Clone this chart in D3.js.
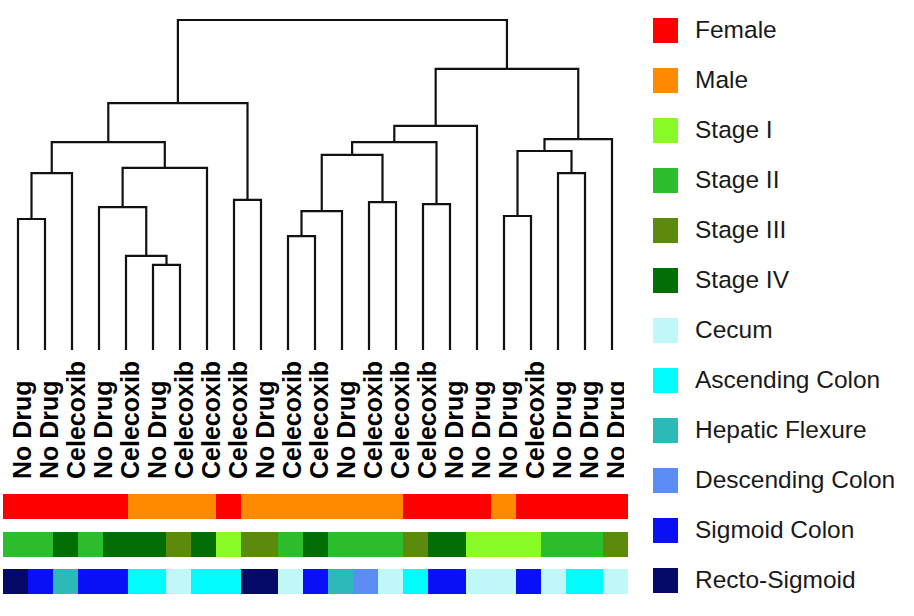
<!DOCTYPE html>
<html>
<head>
<meta charset="utf-8">
<script src="https://cdn.jsdelivr.net/npm/d3@7/dist/d3.min.js"></script>
<style>
  html, body { margin: 0; padding: 0; background: #fff; }
  svg { display: block; }
</style>
</head>
<body>
<svg id="chart" width="914" height="616"></svg>
<script>
// ---------------- DATA ----------------
const leafLabels = ["No Drug","No Drug","Celecoxib","No Drug","Celecoxib","No Drug","Celecoxib","Celecoxib","Celecoxib","No Drug","Celecoxib","Celecoxib","No Drug","Celecoxib","Celecoxib","Celecoxib","No Drug","No Drug","No Drug","Celecoxib","No Drug","No Drug","No Drug"];

// hclust-style merge list: negative = leaf (1-based), positive = earlier merge (1-based); third = height
const merges = [
  [-6, -7, 0.258],
  [-5, 1, 0.285],
  [-4, 2, 0.433],
  [3, -8, 0.552],
  [-1, -2, 0.397],
  [5, -3, 0.536],
  [6, 4, 0.630],
  [-9, -10, 0.455],
  [7, 8, 0.748],
  [-11, -12, 0.345],
  [10, -13, 0.421],
  [-14, -15, 0.448],
  [11, 12, 0.591],
  [-16, -17, 0.442],
  [13, 14, 0.630],
  [15, -18, 0.679],
  [-19, -20, 0.406],
  [-21, -22, 0.536],
  [17, 18, 0.603],
  [19, -23, 0.639],
  [16, 20, 0.852],
  [9, 21, 1.000]
];

// annotation bars: [start, end, category] in cell units (25 cells)
const sexSegments = [[0,5,"Female"],[5,8.5,"Male"],[8.5,9.5,"Female"],[9.5,16,"Male"],[16,19.5,"Female"],[19.5,20.5,"Male"],[20.5,25,"Female"]];
const stageSegments = [[0,2,"Stage II"],[2,3,"Stage IV"],[3,4,"Stage II"],[4,6.5,"Stage IV"],[6.5,7.5,"Stage III"],[7.5,8.5,"Stage IV"],[8.5,9.5,"Stage I"],[9.5,11,"Stage III"],[11,12,"Stage II"],[12,13,"Stage IV"],[13,16,"Stage II"],[16,17,"Stage III"],[17,18.5,"Stage IV"],[18.5,21.5,"Stage I"],[21.5,24,"Stage II"],[24,25,"Stage III"]];
const locationSegments = [[0,1,"Recto-Sigmoid"],[1,2,"Sigmoid Colon"],[2,3,"Hepatic Flexure"],[3,5,"Sigmoid Colon"],[5,6.5,"Ascending Colon"],[6.5,7.5,"Cecum"],[7.5,9.5,"Ascending Colon"],[9.5,11,"Recto-Sigmoid"],[11,12,"Cecum"],[12,13,"Sigmoid Colon"],[13,14,"Hepatic Flexure"],[14,15,"Descending Colon"],[15,16,"Cecum"],[16,17,"Ascending Colon"],[17,18.5,"Sigmoid Colon"],[18.5,20.5,"Cecum"],[20.5,21.5,"Sigmoid Colon"],[21.5,22.5,"Cecum"],[22.5,24,"Ascending Colon"],[24,25,"Cecum"]];

const legendCategories = ["Female","Male","Stage I","Stage II","Stage III","Stage IV","Cecum","Ascending Colon","Hepatic Flexure","Descending Colon","Sigmoid Colon","Recto-Sigmoid"];
const legendColors = ["#fe0000","#ff8a00","#88fa26","#2cbd2c","#5c8a0c","#036e03","#c0f8f8","#02fbfb","#2eb9b9","#5b8df5","#0a10f5","#050a68"];

// ---------------- CHART ----------------
const svg = d3.select("#chart");
const color = d3.scaleOrdinal().domain(legendCategories).range(legendColors);

function buildNode(ref) {
  if (ref < 0) return { leaf: -ref - 1, height: 0 };
  const m = merges[ref - 1];
  return { height: m[2], children: [buildNode(m[0]), buildNode(m[1])] };
}
const root = d3.hierarchy(buildNode(merges.length));

const xLeaf = d3.scalePoint().domain(d3.range(leafLabels.length)).range([18, 612]);
const yH = d3.scaleLinear().domain([0, 1]).range([350, 20]);

root.eachAfter(n => {
  if (!n.children) n.px = xLeaf(n.data.leaf);
  else n.px = d3.mean(n.children, c => c.px);
  n.py = yH(n.data.height);
});

svg.append("g").selectAll("path")
  .data(root.descendants().filter(n => n.children))
  .join("path")
  .attr("fill", "none")
  .attr("stroke", "#111")
  .attr("stroke-width", 2.2)
  .attr("d", n => {
    const [a, b] = n.children;
    return `M${a.px},${a.py}V${n.py}H${b.px}V${b.py}`;
  });

// leaf labels (read bottom-to-top, starting at the bottom line)
svg.append("g").attr("class", "labels")
  .selectAll("text")
  .data(leafLabels)
  .join("text")
  .attr("transform", (d, i) => `translate(${xLeaf(i) + 13},479) rotate(-90)`)
  .attr("text-anchor", "start")
  .style("font-family", "'Liberation Sans', Arial, sans-serif")
  .style("font-weight", "bold")
  .style("font-size", "25px")
  .attr("fill", "#000")
  .text(d => d);

// mask the clipped right edge of the last label, as in the reference
svg.append("rect").attr("x", 624).attr("y", 340).attr("width", 20).attr("height", 150).attr("fill", "#fff");

// annotation bars
const xCell = d3.scaleLinear().domain([0, 25]).range([3, 628]);
const bars = [
  { segs: sexSegments, y: 494 },
  { segs: stageSegments, y: 532 },
  { segs: locationSegments, y: 569 }
];
bars.forEach(b => {
  svg.append("g").selectAll("rect")
    .data(b.segs)
    .join("rect")
    .attr("x", d => xCell(d[0]))
    .attr("width", d => xCell(d[1]) - xCell(d[0]))
    .attr("y", b.y)
    .attr("height", 25)
    .attr("fill", d => color(d[2]))
    .attr("shape-rendering", "crispEdges");
});

// legend
const legend = svg.append("g").selectAll("g")
  .data(legendCategories)
  .join("g")
  .attr("transform", (d, i) => `translate(653,${18 + i * 50})`);
legend.append("rect")
  .attr("width", 25).attr("height", 25)
  .attr("fill", d => color(d));
legend.append("text")
  .attr("x", 42).attr("y", 11.5)
  .attr("dy", "0.35em")
  .style("font-family", "'Liberation Sans', Arial, sans-serif")
  .style("font-size", "24.5px")
  .attr("fill", "#1a1a1a")
  .text(d => d);
</script>
</body>
</html>
